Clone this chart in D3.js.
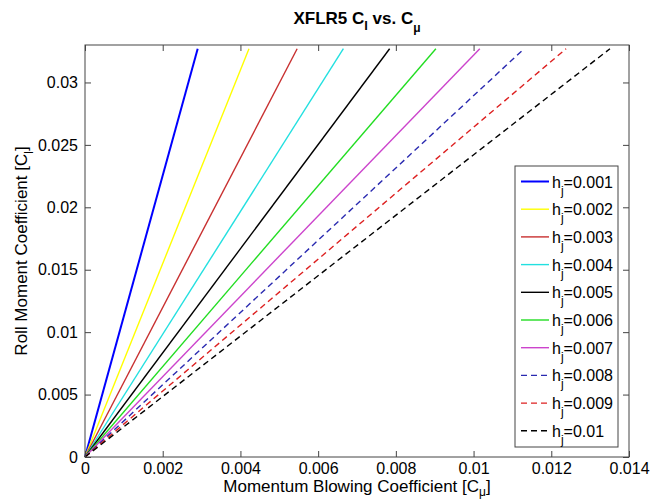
<!DOCTYPE html>
<html>
  <head>
    <meta charset="utf-8">
    <title>XFLR5 Cl vs Cmu</title>
    <script type="text/javascript" src="https://cdn.jsdelivr.net/npm/d3@7"></script>
    <style type='text/css'>
      body { margin: 0; background: #fff; }
      text { font-family: 'Liberation Sans', Arial, sans-serif; }
    </style>
  </head>
  <body>
    <script type="text/javascript">
      var w = 660;
      var h = 500;

      // slot heights h_j, and where each line ends (it starts at the origin)
      var hjLabels = ['0.001', '0.002', '0.003', '0.004', '0.005', '0.006', '0.007', '0.008', '0.009', '0.01'];
      var cmuEnd = [0.0029, 0.00422, 0.00546, 0.00665, 0.00784, 0.00903, 0.01016, 0.0113, 0.01238, 0.01351];
      var clEnd = [0.0327, 0.0327, 0.0327, 0.0327, 0.0327, 0.0327, 0.0327, 0.0327, 0.0327, 0.0327];
      var colors = ['#0000ff', '#ffff00', '#c83030', '#22e0e0', '#000000', '#22dd22', '#cc44cc', '#2a2ab0', '#dd2020', '#000000'];
      var dashed = [false, false, false, false, false, false, false, true, true, true];

      var xTicks = [0, 0.002, 0.004, 0.006, 0.008, 0.01, 0.012, 0.014];
      var xTickLabels = ['0', '0.002', '0.004', '0.006', '0.008', '0.01', '0.012', '0.014'];
      var yTicks = [0, 0.005, 0.01, 0.015, 0.02, 0.025, 0.03];
      var yTickLabels = ['0', '0.005', '0.01', '0.015', '0.02', '0.025', '0.03'];

      // plot box (window.top is reserved, so different names)
      var pLeft = 85, pRight = 629, pTop = 45, pBottom = 457;

      var x = d3.scaleLinear().domain([0, 0.014]).range([pLeft, pRight]);
      var y = d3.scaleLinear().domain([0, 0.033]).range([pBottom, pTop]);

      var svg = d3.select('body')
                  .append('svg')
                  .attr('width', w)
                  .attr('height', h);

      // lines
      var line = d3.line()
                   .x(function(d) {return x(d[0]);})
                   .y(function(d) {return y(d[1]);});

      var series = cmuEnd.map(function(c, i) {return [[0, 0], [c, clEnd[i]]];});

      svg.selectAll('path.series')
        .data(series)
        .enter()
        .append('path')
        .attr('class', 'series')
        .attr('d', line)
        .attr('fill', 'none')
        .attr('stroke', function(d, i) {return colors[i];})
        .attr('stroke-width', function(d, i) {return i == 0 ? 2 : 1.4;})
        .attr('stroke-dasharray', function(d, i) {return dashed[i] ? '6,4' : null;});

      // axes, ticks point inward like matlab
      var axisColor = '#444';
      function styleAxis(g, labels) {
        g.select('.domain').remove();
        g.selectAll('.tick line').attr('stroke', axisColor);
        g.selectAll('.tick text')
          .attr('font-size', '16px')
          .attr('font-family', "'Liberation Sans', Arial, sans-serif")
          .attr('fill', '#000');
        if (!labels) g.selectAll('.tick text').remove();
      }

      svg.append('g')
        .attr('transform', 'translate(0,' + pBottom + ')')
        .call(d3.axisBottom(x).tickValues(xTicks).tickSizeInner(-6).tickSizeOuter(0).tickPadding(6)
              .tickFormat(function(d, i) {return xTickLabels[i];}))
        .call(function(g) {styleAxis(g, true);});

      svg.append('g')
        .attr('transform', 'translate(0,' + pTop + ')')
        .call(d3.axisTop(x).tickValues(xTicks).tickSizeInner(-6).tickSizeOuter(0))
        .call(function(g) {styleAxis(g, false);});

      svg.append('g')
        .attr('transform', 'translate(' + pLeft + ',0)')
        .call(d3.axisLeft(y).tickValues(yTicks).tickSizeInner(-6).tickSizeOuter(0).tickPadding(7)
              .tickFormat(function(d, i) {return yTickLabels[i];}))
        .call(function(g) {styleAxis(g, true);});

      svg.append('g')
        .attr('transform', 'translate(' + pRight + ',0)')
        .call(d3.axisRight(y).tickValues(yTicks).tickSizeInner(-6).tickSizeOuter(0))
        .call(function(g) {styleAxis(g, false);});

      svg.append('rect')
        .attr('x', pLeft)
        .attr('y', pTop)
        .attr('width', pRight - pLeft)
        .attr('height', pBottom - pTop)
        .attr('fill', 'none')
        .attr('stroke', axisColor)
        .attr('stroke-width', 1);

      // title
      var title = svg.append('text')
        .attr('x', (pLeft + pRight) / 2)
        .attr('y', 24)
        .attr('text-anchor', 'middle')
        .attr('font-size', '17px')
        .attr('font-weight', 'bold');
      title.append('tspan').text('XFLR5 C');
      title.append('tspan').attr('dy', 6).attr('font-size', '13px').text('l');
      title.append('tspan').attr('dy', -6).text(' vs. C');
      title.append('tspan').attr('dy', 8).attr('font-size', '12px').text('\u03bc');

      // x label
      var xl = svg.append('text')
        .attr('x', (pLeft + pRight) / 2)
        .attr('y', 492)
        .attr('text-anchor', 'middle')
        .attr('font-size', '17px');
      xl.append('tspan').text('Momentum Blowing Coefficient [C');
      xl.append('tspan').attr('dy', 4).attr('font-size', '12px').text('\u03bc');
      xl.append('tspan').attr('dy', -4).text(']');

      // y label
      var yl = svg.append('text')
        .attr('transform', 'translate(27,' + (pTop + pBottom) / 2 + ') rotate(-90)')
        .attr('text-anchor', 'middle')
        .attr('font-size', '17px');
      yl.append('tspan').text('Roll Moment Coefficient [C');
      yl.append('tspan').attr('dy', 6).attr('font-size', '12px').text('l');
      yl.append('tspan').attr('dy', -6).text(']');

      // legend
      var lg = svg.append('g');
      lg.append('rect')
        .attr('x', 515)
        .attr('y', 166)
        .attr('width', 103)
        .attr('height', 281)
        .attr('fill', '#fff')
        .attr('stroke', axisColor);

      var rows = lg.selectAll('g.row')
        .data(hjLabels)
        .enter()
        .append('g')
        .attr('class', 'row')
        .attr('transform', function(d, i) {return 'translate(0,' + (181.5 + i * 27.7) + ')';});

      rows.append('line')
        .attr('x1', 521)
        .attr('x2', 549)
        .attr('stroke', function(d, i) {return colors[i];})
        .attr('stroke-width', function(d, i) {return i == 0 ? 2 : 1.4;})
        .attr('stroke-dasharray', function(d, i) {return dashed[i] ? '6,4' : null;});

      var lt = rows.append('text')
        .attr('x', 552)
        .attr('y', 6)
        .attr('font-size', '16px');
      lt.append('tspan').text('h');
      lt.append('tspan').attr('dy', 7).attr('font-size', '12px').text('j');
      lt.append('tspan').attr('dy', -7).text(function(d) {return '=' + d;});
    </script>
  </body>
</html>
